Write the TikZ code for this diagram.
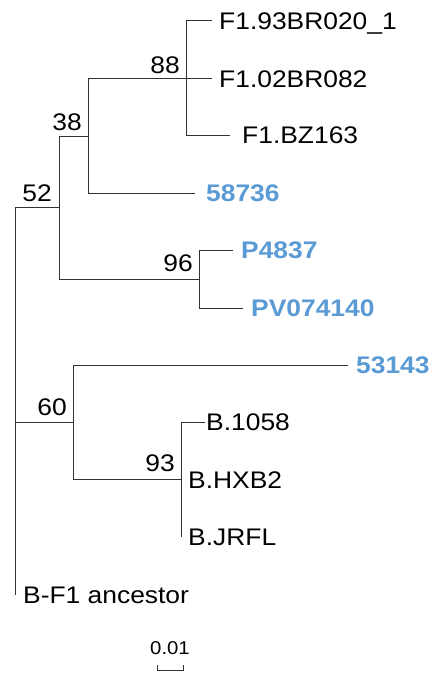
\documentclass[tikz,border=0pt]{standalone}
\usepackage{fontspec}
\setmainfont[FakeStretch=1.1]{Liberation Sans}
\definecolor{tipblue}{HTML}{5B9BD5}
\definecolor{branch}{HTML}{333333}
\tikzset{
  edge/.style={draw=branch, line width=1pt},
  leaf/.style={inner sep=0pt, anchor=west, text height=17.1pt, text depth=0pt, font=\fontsize{24}{28}\selectfont},
  hilite/.style={leaf, text=tipblue, font=\fontsize{24}{28}\selectfont\bfseries},
  boot/.style={inner sep=0pt, anchor=east, text height=17.1pt, text depth=0pt, font=\fontsize{24}{28}\selectfont},
  scalelab/.style={inner sep=0pt, text height=13.3pt, text depth=0pt, font=\fontsize{18.5}{22}\selectfont}
}
\begin{document}
\begin{tikzpicture}[x=1pt,y=-1pt]
\useasboundingbox[fill=white] (0,0) rectangle (433,674);
% internal nodes
\coordinate (r) at (15,422);
\coordinate (n52) at (59,207);
\coordinate (n38) at (88,136);
\coordinate (n88) at (186,79);
\coordinate (n96) at (199,279);
\coordinate (n60) at (73,422);
\coordinate (n93) at (181,479);
% tips
\coordinate (t1) at (212,21);
\coordinate (t2) at (212,79);
\coordinate (t3) at (230,135);
\coordinate (t4) at (195,193);
\coordinate (t5) at (233,250);
\coordinate (t6) at (243,308);
\coordinate (t7) at (348,365);
\coordinate (t8) at (205,422);
\coordinate (t9) at (181,479);
\coordinate (t10) at (181,537);
\coordinate (t11) at (15,595);
% labels
\node[leaf] (l1) at (219,21) {F1.93BR020\_1};
\node[leaf] (l2) at (219,79) {F1.02BR082};
\node[leaf] (l3) at (242,135) {F1.BZ163};
\node[hilite] (l4) at (206,193) {58736};
\node[hilite] (l5) at (241,250) {P4837};
\node[hilite] (l6) at (251,308) {PV074140};
\node[hilite] (l7) at (356,365) {53143};
\node[leaf] (l8) at (206,422) {B.1058};
\node[leaf] (l9) at (188,480) {B.HXB2};
\node[leaf] (l10) at (188,537) {B.JRFL};
\node[leaf] (l11) at (23,595) {B-F1 ancestor};
% bootstrap values
\node[boot] (b88) at (180,65) {88};
\node[boot] (b38) at (82,122) {38};
\node[boot] (b52) at (52,193) {52};
\node[boot] (b96) at (193,263) {96};
\node[boot] (b60) at (67,407) {60};
\node[boot] (b93) at (175,463) {93};
% branches
\draw[edge] (r) |- (n52);
\draw[edge] (r) |- (n60);
\draw[edge] (r) |- (t11);
\draw[edge] (n52) |- (n38);
\draw[edge] (n52) |- (n96);
\draw[edge] (n38) |- (n88);
\draw[edge] (n38) |- (t4);
\draw[edge] (n88) |- (t1);
\draw[edge] (n88) |- (t2);
\draw[edge] (n88) |- (t3);
\draw[edge] (n96) |- (t5);
\draw[edge] (n96) |- (t6);
\draw[edge] (n60) |- (t7);
\draw[edge] (n60) |- (n93);
\draw[edge] (n93) |- (t8);
\draw[edge] (n93) |- (t9);
\draw[edge] (n93) |- (t10);
% scale bar
\coordinate (s1) at (157,670);
\coordinate (s2) at (183,670);
\coordinate (s1t) at (157,665);
\coordinate (s2t) at (183,665);
\draw[edge] (s1t) -- (s1) -- (s2) -- (s2t);
\node[scalelab] (sl) at (170,648) {0.01};
\end{tikzpicture}
\end{document}
